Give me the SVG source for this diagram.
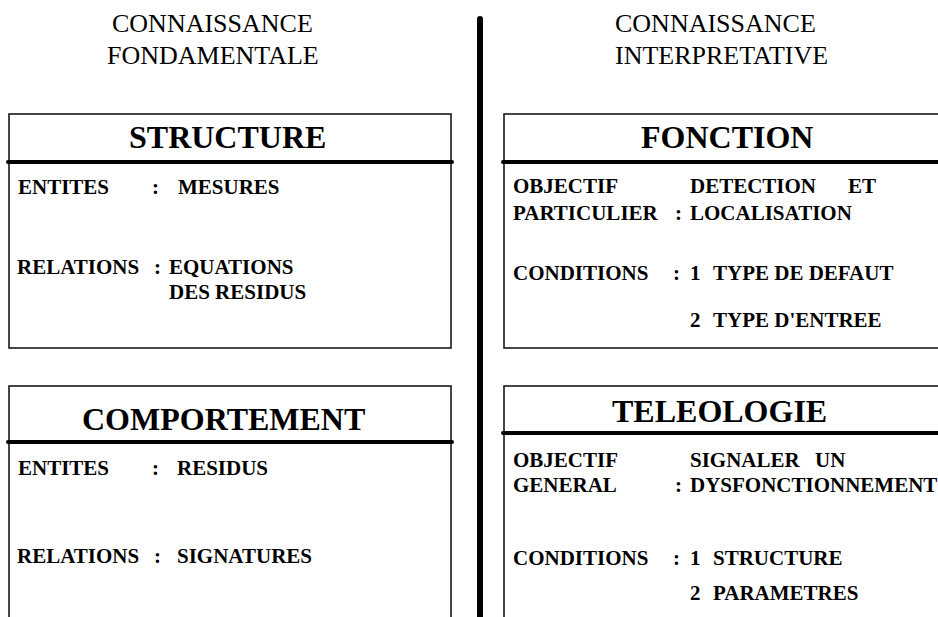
<svg xmlns="http://www.w3.org/2000/svg" width="938" height="617" viewBox="0 0 938 617">
  <style>
    .bg { fill: #ffffff; }
    .box { fill: none; stroke: #1a1a1a; stroke-width: 1.6; }
    .rule { stroke: #000000; stroke-width: 4; stroke-linecap: round; }
    .divider { stroke: #000000; stroke-width: 6; stroke-linecap: round; }
    .head { font-family: "Liberation Serif", "Times New Roman", serif; font-size: 26px; fill: #000000; }
    .title { font-family: "Liberation Serif", "Times New Roman", serif; font-size: 32px; font-weight: bold; fill: #000000; }
    .body { font-family: "Liberation Serif", "Times New Roman", serif; font-size: 21px; font-weight: bold; fill: #000000; }
  </style>

  <rect class="bg" x="0" y="0" width="938" height="617"/>

  <!-- column headings -->
  <g id="heading-fondamentale">
    <text class="head" x="112" y="32">CONNAISSANCE</text>
    <text class="head" x="107" y="64">FONDAMENTALE</text>
  </g>
  <g id="heading-interpretative">
    <text class="head" x="615" y="32">CONNAISSANCE</text>
    <text class="head" x="615" y="64">INTERPRETATIVE</text>
  </g>

  <!-- central separator between the two columns -->
  <g id="separators">
    <line class="divider" x1="480" y1="19" x2="480" y2="625"/>
  </g>

  <!-- STRUCTURE -->
  <g id="structure">
    <rect class="box" x="9" y="114" width="442" height="234"/>
    <line class="rule" x1="8" y1="162" x2="452" y2="162"/>
    <text class="title" x="129" y="148">STRUCTURE</text>
    <text class="body" x="18" y="194">ENTITES</text>
    <text class="body" x="152" y="194">:</text>
    <text class="body" x="178" y="194">MESURES</text>
    <text class="body" x="17" y="274">RELATIONS</text>
    <text class="body" x="154" y="274">:</text>
    <text class="body" x="169" y="274">EQUATIONS</text>
    <text class="body" x="169" y="299">DES RESIDUS</text>
  </g>

  <!-- COMPORTEMENT -->
  <g id="comportement">
    <rect class="box" x="9" y="386" width="442" height="250"/>
    <line class="rule" x1="8" y1="442" x2="452" y2="442"/>
    <text class="title" x="82" y="430">COMPORTEMENT</text>
    <text class="body" x="18" y="475">ENTITES</text>
    <text class="body" x="152" y="475">:</text>
    <text class="body" x="177" y="475">RESIDUS</text>
    <text class="body" x="17" y="563">RELATIONS</text>
    <text class="body" x="154" y="563">:</text>
    <text class="body" x="177" y="563">SIGNATURES</text>
  </g>

  <!-- FONCTION -->
  <g id="fonction">
    <rect class="box" x="504" y="114" width="450" height="234"/>
    <line class="rule" x1="503" y1="162" x2="950" y2="162"/>
    <text class="title" x="641" y="148">FONCTION</text>
    <text class="body" x="513" y="193">OBJECTIF</text>
    <text class="body" x="690" y="193">DETECTION</text>
    <text class="body" x="848" y="193">ET</text>
    <text class="body" x="513" y="220">PARTICULIER</text>
    <text class="body" x="675" y="220">:</text>
    <text class="body" x="690" y="220">LOCALISATION</text>
    <text class="body" x="513" y="280">CONDITIONS</text>
    <text class="body" x="673" y="280">:</text>
    <text class="body" x="690" y="280">1</text>
    <text class="body" x="713" y="280">TYPE DE DEFAUT</text>
    <text class="body" x="690" y="327">2</text>
    <text class="body" x="713" y="327">TYPE D'ENTREE</text>
  </g>

  <!-- TELEOLOGIE -->
  <g id="teleologie">
    <rect class="box" x="504" y="386" width="450" height="250"/>
    <line class="rule" x1="503" y1="433" x2="950" y2="433"/>
    <text class="title" x="612" y="422">TELEOLOGIE</text>
    <text class="body" x="513" y="467">OBJECTIF</text>
    <text class="body" x="690" y="467">SIGNALER</text>
    <text class="body" x="815" y="467">UN</text>
    <text class="body" x="513" y="492">GENERAL</text>
    <text class="body" x="675" y="492">:</text>
    <text class="body" x="690" y="492">DYSFONCTIONNEMENT</text>
    <text class="body" x="513" y="565">CONDITIONS</text>
    <text class="body" x="673" y="565">:</text>
    <text class="body" x="690" y="565">1</text>
    <text class="body" x="713" y="565">STRUCTURE</text>
    <text class="body" x="690" y="600">2</text>
    <text class="body" x="713" y="600">PARAMETRES</text>
  </g>
</svg>
